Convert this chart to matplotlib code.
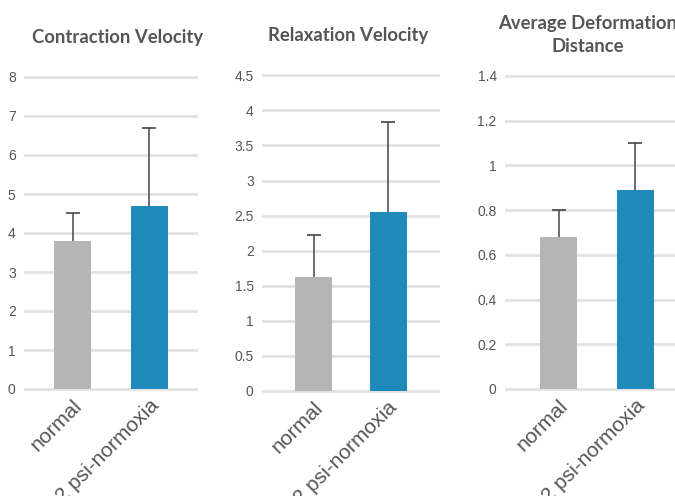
import matplotlib
matplotlib.use("Agg")
import matplotlib.pyplot as plt
import matplotlib.transforms as mtransforms

# Data
groups = ["normal", "2 psi-normoxia"]
titles = ["Contraction Velocity", "Relaxation Velocity", "Average Deformation\nDistance"]
contraction = [3.8, 4.7]
contraction_err = [0.7, 2.0]
relaxation = [1.62, 2.55]
relaxation_err = [0.6, 1.28]
deformation = [0.68, 0.89]
deformation_err = [0.12, 0.21]
yticks = [[0, 1, 2, 3, 4, 5, 6, 7, 8],
          [0, 0.5, 1, 1.5, 2, 2.5, 3, 3.5, 4, 4.5],
          [0, 0.2, 0.4, 0.6, 0.8, 1, 1.2, 1.4]]
yticklabels = [["0", "1", "2", "3", "4", "5", "6", "7", "8"],
               ["0", "0.5", "1", "1.5", "2", "2.5", "3", "3.5", "4", "4.5"],
               ["0", "0.2", "0.4", "0.6", "0.8", "1", "1.2", "1.4"]]

values = [contraction, relaxation, deformation]
errors = [contraction_err, relaxation_err, deformation_err]
bar_colors = ["#b4b5b4", "#1f89b9"]

W, H = 675, 496
fig = plt.figure(figsize=(W / 100, H / 100), dpi=100)

# axes boxes in pixels: left, right, top (max tick), bottom (zero)
boxes = [(24, 198, 77, 389), (262, 440, 75.3, 391), (505, 689, 76, 389)]
xlims = [(-0.63, 1.63), (-0.70, 1.70), (-0.695, 1.695)]
widths = [0.48, 0.5, 0.48]
title_x = [118, 348, 588]
title_y = [37, 35, 35]

for i in range(3):
    l, r, t, b = boxes[i]
    top_val = yticks[i][-1]
    pad = 3  # pixels of room so edge gridlines are not clipped
    scale = (b - t) / top_val
    ax = fig.add_axes([l / W, (H - b - pad) / H, (r - l) / W, (b - t + 2 * pad) / H])
    ax.set_ylim(-pad / scale, top_val + pad / scale)
    ax.set_xlim(*xlims[i])
    ax.bar([0, 1], values[i], width=widths[i], color=bar_colors, zorder=2)
    # upper error bars only
    tops = [v + e for v, e in zip(values[i], errors[i])]
    ax.vlines([0, 1], values[i], tops, color="#444444", linewidth=1.1, zorder=3)
    ax.plot([0, 1], tops, linestyle="none", marker="_", markersize=10,
            markeredgewidth=1.2, color="#444444", zorder=3)
    ax.set_yticks(yticks[i])
    ax.set_yticklabels(yticklabels[i])
    ax.grid(axis="y", color="#e2e2e2", linewidth=2, zorder=0)
    ax.set_axisbelow(True)
    for s in ax.spines.values():
        s.set_visible(False)
    ax.tick_params(axis="both", length=0, colors="#555555", labelsize=10)
    ax.tick_params(axis="y", pad=6)
    for lab in ax.get_yticklabels():
        lab.set_fontfamily("Liberation Sans")
    ax.set_xticks([0, 1])
    ax.set_xticklabels(groups, rotation=45, ha="right", va="center",
                       rotation_mode="anchor", fontsize=15,
                       fontfamily="Liberation Sans", color="#555555")
    offset = mtransforms.ScaledTranslation(6 / 100, -6 / 100, fig.dpi_scale_trans)
    for lab in ax.get_xticklabels():
        lab.set_transform(lab.get_transform() + offset)
    fig.text(title_x[i] / W, 1 - title_y[i] / H, titles[i], ha="center", va="center",
             fontsize=13.3, fontweight="bold", fontfamily="Lato", color="#555555",
             linespacing=1.45)

fig.savefig("out.png", dpi=100)
